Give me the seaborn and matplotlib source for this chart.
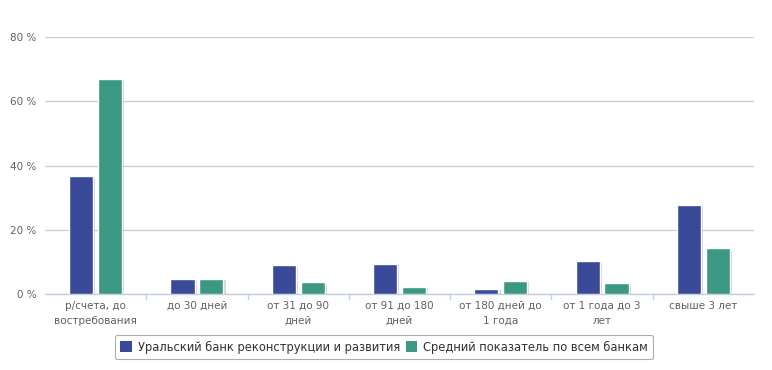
import matplotlib
matplotlib.use("Agg")
import matplotlib.pyplot as plt
import matplotlib.patheffects as pe
import seaborn as sns
import pandas as pd

categories = ["р/счета, до\nвостребования", "до 30 дней", "от 31 до 90\nдней",
              "от 91 до 180\nдней", "от 180 дней до\n1 года", "от 1 года до 3\nлет",
              "свыше 3 лет"]
series_names = ["Уральский банк реконструкции и развития", "Средний показатель по всем банкам"]
bank_values = [36.6, 4.8, 8.9, 9.4, 1.6, 10.4, 27.8]
avg_values = [66.8, 4.8, 3.7, 2.3, 4.2, 3.5, 14.2]
colors = ["#3a4998", "#3b9983"]
yticks = [0, 20, 40, 60, 80]

df = pd.DataFrame({
    "cat": categories * 2,
    "series": [series_names[0]] * len(categories) + [series_names[1]] * len(categories),
    "value": bank_values + avg_values,
})

sns.set_style("white")
plt.rcParams["font.family"] = ["DejaVu Sans"]

fig = plt.figure(figsize=(7.72, 3.70), dpi=100)
ax = fig.add_axes([45 / 772, 1 - 294 / 370, (754 - 45) / 772, (294 - 37) / 370])

sns.barplot(data=df, x="cat", y="value", hue="series", palette=colors,
            width=0.57, gap=0.16, ax=ax, saturation=1, edgecolor="white",
            linewidth=1.0, legend=True)

for p in ax.patches:
    p.set_path_effects([pe.SimplePatchShadow(offset=(1.5, -1), shadow_rgbFace="#888888", alpha=0.35),
                        pe.Normal()])
    p.set_zorder(3)

ax.set_ylim(0, 80)
ax.set_xlim(-0.5, len(categories) - 0.5)
ax.set_yticks(yticks)
ax.set_yticklabels([f"{v} %" for v in yticks], fontsize=7.5, color="#606060")
ax.yaxis.grid(True, color="#cccccc", linewidth=0.9)
ax.set_axisbelow(True)
ax.tick_params(axis="y", length=0, pad=6)

ax.set_xticks(range(len(categories)))
ax.set_xticklabels(categories, fontsize=7.5, color="#606060", linespacing=1.6)
ax.tick_params(axis="x", length=0, pad=5)
for xb in [i + 0.5 for i in range(len(categories) - 1)]:
    ax.plot([xb, xb], [0, -1.6], color="#c0d0e0", lw=1, clip_on=False, zorder=1)

for s in ["left", "right", "top"]:
    ax.spines[s].set_visible(False)
ax.spines["bottom"].set_color("#c0d0e0")
ax.spines["bottom"].set_linewidth(1)
ax.set_xlabel("")
ax.set_ylabel("")

handles, labels = ax.get_legend_handles_labels()
ax.legend_.remove()
leg = fig.legend(handles, labels, loc="center", bbox_to_anchor=(384 / 772, 1 - 347 / 370),
                 ncol=2, frameon=True, fontsize=8.3, handlelength=1.0, handleheight=1.0,
                 handletextpad=0.5, columnspacing=0.5, borderpad=0.5, fancybox=True,
                 edgecolor="#999999", labelcolor="#333333")
leg.get_frame().set_linewidth(0.8)
for h in leg.legend_handles:
    h.set_edgecolor("none")
    h.set_path_effects([])

fig.savefig("out.png", dpi=100, facecolor="white")
